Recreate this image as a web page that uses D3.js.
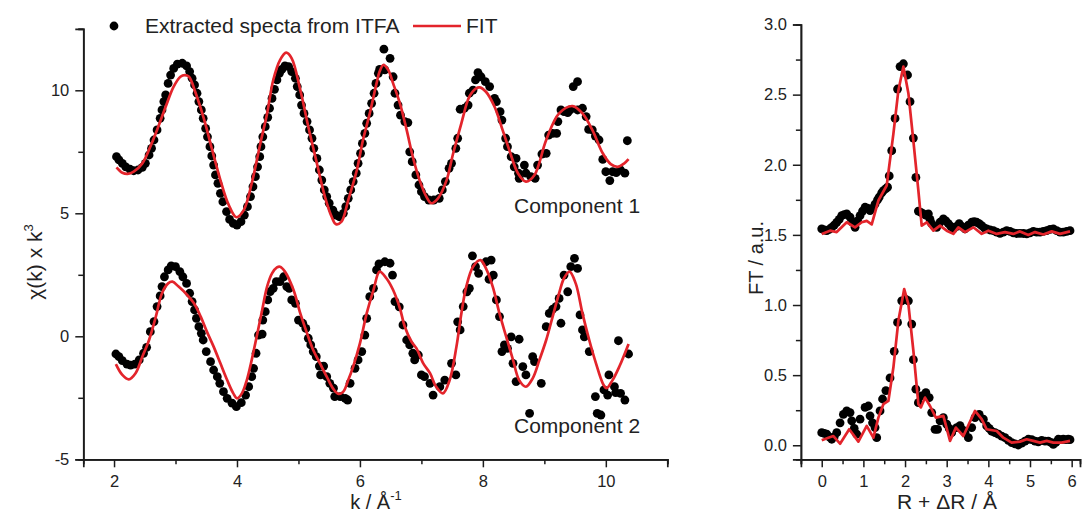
<!DOCTYPE html>
<html><head><meta charset="utf-8">
<script src="https://cdn.jsdelivr.net/npm/d3@7"></script>
<style>
body{margin:0;background:#fff}
svg{display:block;font-family:"Liberation Sans",Arial,sans-serif}
</style>
</head><body>
<svg id="chart" width="1082" height="513"></svg>
<script>
// ---------------- DATA ----------------
// Left panel: chi(k) x k^3, component 1
const c1DotK = [2.04,2.08,2.135,2.19,2.26,2.32,2.39,2.46,2.51,2.57,2.61,2.65,2.70,2.75,2.78,2.81,2.84,2.88,2.92,2.97,3.03,3.11,3.18,3.23,3.27,3.31,3.35,3.38,3.42,3.45,3.49,3.52,3.56,3.59,3.62,3.65,3.69,3.73,3.77,3.83,3.88,3.94,4.00,4.065,4.12,4.17,4.22,4.26,4.30,4.335,4.37,4.39,4.42,4.46,4.50,4.53,4.57,4.61,4.65,4.69,4.73,4.78,4.84,4.89,4.95,4.98,5.02,5.05,5.09,5.14,5.18,5.22,5.25,5.30,5.34,5.38,5.42,5.46,5.50,5.56,5.61,5.665,5.73,5.77,5.81,5.85,5.89,5.94,5.97,6.01,6.04,6.08,6.11,6.15,6.19,6.23,6.26,6.30,6.32,
  6.39,6.405,6.49,6.54,6.57,6.62,6.66,6.73,6.78,6.81,6.85,6.91,6.96,7.00,7.05,7.12,7.20,7.29,7.34,7.39,7.45,7.49,7.56,7.59,7.63,7.70,7.76,7.78,7.84,7.88,7.92,7.97,8.04,8.11,8.19,8.22,8.28,8.31,8.37,8.40,8.46,8.51,8.54,8.58,8.59,8.675,8.70,8.78,8.85,8.89,8.96,9.03,9.07,9.135,9.20,9.22,9.27,9.32,9.38,9.42,9.47,9.54,9.54,9.62,9.68,9.72,9.78,9.83,9.89,9.95,10.00,10.065,10.11,10.17,10.24,10.31,10.35];
const c1DotV = [7.30,7.17,7.03,6.89,6.79,6.73,6.76,6.87,7.03,7.37,7.64,7.98,8.39,8.86,9.20,9.54,9.81,10.28,10.62,10.89,11.06,11.10,10.99,10.76,10.49,10.22,9.88,9.54,9.20,8.86,8.45,8.11,7.71,7.33,6.96,6.56,6.22,5.81,5.47,5.07,4.75,4.59,4.52,4.66,4.93,5.27,5.68,6.08,6.49,6.89,7.30,7.71,8.11,8.52,8.90,9.27,9.67,10.04,10.42,10.69,10.85,10.99,10.96,10.76,10.49,10.15,9.81,9.40,9.06,8.73,8.39,8.05,7.64,7.23,6.76,6.35,5.95,5.68,5.41,5.13,4.93,4.86,5.00,5.27,5.61,5.95,6.29,6.63,7.03,7.44,7.84,8.25,8.66,9.06,9.47,9.88,10.28,10.69,10.85,
  11.67,10.83,11.30,10.55,9.88,9.40,8.99,8.73,8.69,7.50,7.10,6.56,6.15,5.88,5.68,5.54,5.54,5.61,5.95,6.29,6.83,7.03,7.64,8.05,9.23,9.27,9.40,9.88,10.01,10.42,10.72,10.55,10.35,10.15,9.67,9.54,9.13,8.79,8.05,7.71,7.30,6.89,7.23,6.63,6.42,6.96,6.63,6.49,6.42,6.96,7.41,7.44,8.18,8.25,8.25,8.73,9.20,9.13,9.09,9.20,10.15,10.35,9.20,9.27,8.93,8.41,8.39,8.14,7.98,7.19,6.69,6.33,6.69,6.65,6.76,6.63,7.95];
const c1FitK = [2.04,2.135,2.22,2.32,2.46,2.59,2.70,2.84,2.97,3.08,3.15,3.22,3.32,3.46,3.59,3.73,3.865,3.99,4.11,4.24,4.38,4.49,4.59,4.70,4.80,4.89,5.03,5.16,5.30,5.43,5.54,5.61,5.70,5.81,5.95,6.05,6.16,6.27,6.32,6.38,6.46,6.54,6.65,6.76,6.86,6.97,7.08,7.16,7.27,7.41,7.51,7.65,7.78,7.89,7.95,8.05,8.19,8.32,8.43,8.57,8.70,8.84,9.03,9.24,9.46,9.62,9.78,9.95,10.08,10.19,10.30,10.37];
const c1FitV = [6.87,6.65,6.60,6.69,7.03,7.71,8.39,9.33,10.15,10.55,10.62,10.55,9.94,8.86,7.64,6.35,5.34,4.84,5.13,6.22,7.84,9.06,10.42,11.23,11.53,11.30,10.01,8.52,7.03,5.68,4.86,4.56,4.66,5.54,6.76,7.98,9.06,10.28,10.76,11.03,10.83,10.28,9.47,8.39,7.30,6.35,5.68,5.41,5.61,6.35,7.37,8.66,9.74,10.08,10.12,9.94,9.33,8.39,7.57,6.63,6.29,6.56,7.98,9.06,9.36,9.06,8.39,7.44,7.00,6.89,7.03,7.20];

// Left panel: component 2
const c2DotK = [2.03,2.08,2.135,2.21,2.27,2.34,2.41,2.48,2.53,2.59,2.65,2.70,2.75,2.78,2.82,2.88,2.93,3.00,3.07,3.12,3.18,3.23,3.27,3.31,3.34,3.38,3.42,3.45,3.50,3.57,3.62,3.68,3.72,3.78,3.84,3.92,3.99,4.07,4.14,4.19,4.24,4.27,4.31,4.35,4.41,4.42,4.46,4.50,4.54,4.59,4.64,4.70,4.76,4.81,4.85,4.89,4.95,5.00,5.07,5.12,5.16,5.20,5.24,5.29,5.34,5.41,5.36,5.46,5.51,5.57,5.59,5.68,5.76,5.80,5.84,5.92,5.97,6.03,6.08,6.11,6.16,6.22,6.27,6.31,
  6.405,6.49,6.53,6.57,6.64,6.70,6.76,6.81,6.86,6.89,6.95,7.00,7.05,7.14,7.19,7.30,7.38,7.49,7.56,7.59,7.63,7.68,7.74,7.78,7.83,7.88,7.93,8.05,8.135,8.10,8.17,8.22,8.27,8.31,8.35,8.40,8.46,8.49,8.54,8.59,8.65,8.70,8.76,8.81,8.84,8.95,9.03,9.08,9.135,9.19,9.24,9.27,9.32,9.38,9.43,9.49,9.54,9.58,9.62,9.65,9.73,9.83,9.86,9.92,9.97,10.03,10.05,10.14,10.16,10.205,10.24,10.31,10.37];
const c2DotV = [-0.72,-0.83,-0.99,-1.13,-1.17,-1.13,-0.96,-0.69,-0.45,0.19,0.60,1.21,1.64,2.02,2.42,2.70,2.86,2.83,2.63,2.42,2.15,1.75,1.41,1.07,0.73,0.39,0.12,-0.15,-0.62,-1.03,-1.37,-1.64,-1.91,-2.25,-2.52,-2.72,-2.86,-2.70,-2.39,-2.05,-1.64,-1.30,-0.69,0.05,0.09,0.66,1.00,1.48,1.82,1.95,2.22,2.22,2.42,2.02,1.95,1.48,1.34,0.66,0.53,0.32,-0.08,-0.35,-0.62,-0.83,-1.21,-1.21,-1.57,-1.64,-1.91,-2.11,-2.45,-2.45,-2.52,-2.59,-1.91,-1.30,-0.96,-0.62,0.05,0.73,1.61,1.95,2.70,2.94,
  3.03,2.97,2.49,1.41,1.20,0.46,-0.15,-0.35,-0.69,-0.96,-0.76,-1.57,-1.64,-1.91,-2.39,-2.05,-1.78,-1.10,-1.57,0.59,0.26,1.21,1.81,1.95,3.27,2.83,2.56,3.03,3.10,2.32,2.49,1.48,0.80,-0.62,-0.35,-0.49,-0.02,-1.10,-1.84,-0.12,-1.23,-1.57,-3.13,-0.83,-1.03,-1.91,0.39,0.93,1.10,1.21,1.54,0.53,2.49,1.81,2.83,3.17,2.76,0.87,0.26,-0.02,-0.62,-2.45,-3.13,-3.20,-2.18,-2.39,-1.57,-2.05,-2.29,-0.18,-2.32,-2.59,-0.72];
const c2FitK = [2.03,2.135,2.24,2.35,2.46,2.57,2.68,2.78,2.88,2.95,3.05,3.19,3.30,3.41,3.51,3.62,3.73,3.84,3.94,4.00,4.08,4.16,4.24,4.32,4.41,4.49,4.57,4.65,4.70,4.78,4.92,5.03,5.14,5.24,5.35,5.46,5.57,5.65,5.73,5.81,5.89,6.00,6.11,6.22,6.32,6.43,6.54,6.65,6.73,6.84,6.92,7.03,7.14,7.24,7.35,7.46,7.57,7.65,7.73,7.84,7.96,8.05,8.16,8.27,8.38,8.49,8.59,8.70,8.81,8.92,9.03,9.135,9.24,9.32,9.41,9.51,9.62,9.73,9.84,9.95,10.01,10.11,10.22,10.37];
const c2FitV = [-1.13,-1.57,-1.75,-1.50,-0.83,-0.15,0.80,1.75,2.15,2.22,2.02,1.68,1.34,0.80,0.19,-0.42,-1.10,-1.78,-2.32,-2.52,-2.32,-1.78,-0.96,-0.02,1.07,2.02,2.56,2.80,2.83,2.63,1.88,0.93,0.12,-0.56,-1.10,-1.64,-2.15,-2.34,-2.25,-1.78,-1.23,-0.29,0.93,1.88,2.63,2.36,1.88,1.14,0.39,-0.22,-0.49,-1.10,-1.50,-2.05,-2.32,-1.78,-0.42,0.93,2.02,2.83,3.10,2.76,2.02,0.93,-0.02,-0.96,-1.78,-2.05,-1.71,-0.96,-0.15,0.80,1.75,2.36,2.63,2.15,0.93,-0.15,-1.10,-1.91,-2.11,-1.78,-1.23,-0.31];

// Right panel: FT magnitude, component 1 (offset) and component 2
const ft1DotR = [0.00,0.06,0.12,0.18,0.24,0.30,0.36,0.42,0.48,0.54,0.60,0.68,0.74,0.80,0.86,0.92,0.98,1.04,1.10,1.16,1.22,1.28,1.34,1.38,1.44,1.48,1.54,1.58,1.62,1.68,1.76,1.82,1.88,1.96,2.06,2.12,2.20,2.26,2.32,2.38,2.44,2.50,2.56,2.60,2.64,2.70,2.76,2.84,2.92,2.98,3.04,3.10,3.16,3.24,3.30,3.36,3.44,3.52,3.60,3.66,3.72,3.78,3.84,3.90,3.96,4.04,4.12,4.20,4.28,4.36,4.44,4.52,4.60,4.68,4.76,4.84,4.92,5.00,5.08,5.16,5.24,5.32,5.40,5.48,5.56,5.64,5.72,5.80,5.88,5.96];
const ft1DotV = [1.543,1.535,1.53,1.54,1.554,1.57,1.59,1.61,1.638,1.645,1.65,1.626,1.59,1.554,1.60,1.638,1.67,1.697,1.69,1.673,1.69,1.72,1.75,1.77,1.80,1.816,1.83,1.84,1.92,2.10,2.33,2.54,2.70,2.72,2.64,2.45,2.19,1.91,1.67,1.66,1.65,1.64,1.65,1.61,1.58,1.56,1.554,1.59,1.614,1.60,1.58,1.56,1.543,1.56,1.58,1.56,1.543,1.57,1.59,1.595,1.59,1.58,1.566,1.55,1.543,1.535,1.53,1.52,1.511,1.52,1.53,1.525,1.515,1.51,1.511,1.51,1.507,1.515,1.525,1.52,1.52,1.525,1.53,1.54,1.543,1.53,1.52,1.52,1.525,1.53];
const ft1FitR = [0.00,0.20,0.36,0.60,0.80,0.96,1.08,1.20,1.36,1.56,1.72,1.84,1.96,2.08,2.20,2.32,2.40,2.52,2.68,2.84,3.00,3.16,3.28,3.44,3.64,3.84,4.00,4.20,4.40,4.60,4.76,4.96,5.12,5.32,5.52,5.72,5.96];
const ft1FitV = [1.507,1.53,1.52,1.59,1.554,1.59,1.60,1.575,1.745,1.852,2.22,2.53,2.70,2.51,2.17,1.816,1.566,1.59,1.53,1.566,1.53,1.507,1.554,1.52,1.554,1.507,1.53,1.507,1.52,1.507,1.525,1.50,1.52,1.503,1.525,1.507,1.525];

const ft2DotR = [0.00,0.06,0.12,0.18,0.24,0.30,0.36,0.44,0.52,0.60,0.68,0.72,0.78,0.84,0.92,1.04,1.12,1.16,1.22,1.28,1.32,1.40,1.46,1.54,1.64,1.74,1.82,1.92,2.02,2.08,2.16,2.20,2.26,2.32,2.40,2.50,2.58,2.64,2.72,2.78,2.84,2.92,3.00,3.06,3.12,3.24,3.32,3.38,3.44,3.52,3.60,3.68,3.78,3.88,3.96,4.02,4.08,4.16,4.24,4.32,4.40,4.48,4.56,4.64,4.72,4.80,4.88,4.96,5.04,5.12,5.20,5.28,5.36,5.44,5.50,5.56,5.62,5.68,5.74,5.80,5.86,5.92,5.96];
const ft2DotV = [0.09,0.085,0.079,0.06,0.043,0.06,0.09,0.16,0.22,0.245,0.233,0.174,0.12,0.079,0.186,0.27,0.28,0.21,0.16,0.126,0.054,0.245,0.33,0.39,0.48,0.67,0.876,1.03,1.04,1.03,0.864,0.61,0.40,0.304,0.352,0.376,0.34,0.233,0.114,0.114,0.174,0.197,0.15,0.12,0.09,0.126,0.14,0.11,0.09,0.054,0.126,0.197,0.22,0.186,0.138,0.12,0.10,0.09,0.079,0.065,0.054,0.035,0.019,0.01,0.002,0.015,0.03,0.043,0.04,0.03,0.025,0.035,0.03,0.03,0.02,0.007,0.02,0.043,0.04,0.043,0.04,0.043,0.04];
const ft2FitR = [0.00,0.16,0.28,0.44,0.66,0.88,1.08,1.24,1.36,1.48,1.60,1.72,1.84,1.98,2.08,2.20,2.32,2.38,2.48,2.60,2.74,2.92,3.08,3.22,3.40,3.68,3.84,3.96,4.20,4.36,4.56,4.76,4.92,5.08,5.24,5.40,5.56,5.76,5.96];
const ft2FitV = [0.036,0.054,0.066,0.011,0.114,0.026,0.138,0.054,0.197,0.293,0.316,0.554,0.888,1.114,1.007,0.674,0.293,0.27,0.34,0.28,0.197,0.21,0.031,0.126,0.066,0.245,0.186,0.114,0.102,0.054,0.019,0.026,0.043,0.031,0.019,0.031,0.019,0.019,0.031];

// Tick values
const leftXTicks = [2,4,6,8,10];
const leftXMinor = [3,5,7,9,11];
const leftYTicks = [-5,0,5,10];
const leftYMinor = [-2.5,2.5,7.5,12.5];
const rightXTicks = [0,1,2,3,4,5,6];
const rightXMinor = [-0.5,0.5,1.5,2.5,3.5,4.5,5.5];
const rightYTicks = [0,0.5,1.0,1.5,2.0,2.5,3.0];
const rightYMinor = [0.25,0.75,1.25,1.75,2.25,2.75];

const legendDotLabel = "Extracted specta from ITFA";
const legendFitLabel = "FIT";
const comp1Label = "Component 1";
const comp2Label = "Component 2";

// ---------------- DRAW ----------------
const svg = d3.select("#chart");
const RED = "#e3242b";
const AX = "#1c1c1c";

const xL = d3.scaleLinear().domain([1.5, 11]).range([83.3, 667.3]);
const yL = d3.scaleLinear().domain([-5, 12.5]).range([459.3, 28.8]);
const xR = d3.scaleLinear().domain([-0.5, 6.2]).range([800.9, 1080]);
const yR = d3.scaleLinear().domain([-0.1, 3.0]).range([459.3, 24.5]);

function styleAxis(g){
  g.select(".domain").attr("stroke", AX).attr("stroke-width", 1.7);
  g.selectAll(".tick line").attr("stroke", AX).attr("stroke-width", 1.5);
  g.selectAll(".tick text").attr("fill", "#222").style("font-size", "16.5px");
}

// Left axes
const gLX = svg.append("g").attr("transform", `translate(0,${yL(-5)})`)
  .call(d3.axisBottom(xL).tickValues(leftXTicks).tickSize(8).tickPadding(8).tickFormat(d => String(d)));
styleAxis(gLX);
const gLXm = svg.append("g").attr("transform", `translate(0,${yL(-5)})`)
  .call(d3.axisBottom(xL).tickValues(leftXMinor).tickSize(5).tickFormat(""));
styleAxis(gLXm);
const gLY = svg.append("g").attr("transform", `translate(${xL(1.5)},0)`)
  .call(d3.axisLeft(yL).tickValues(leftYTicks).tickSize(8).tickPadding(6).tickFormat(d => String(d)));
styleAxis(gLY);
const gLYm = svg.append("g").attr("transform", `translate(${xL(1.5)},0)`)
  .call(d3.axisLeft(yL).tickValues(leftYMinor).tickSize(5).tickFormat(""));
styleAxis(gLYm);

// Right axes
const gRX = svg.append("g").attr("transform", `translate(0,${yR(-0.1)})`)
  .call(d3.axisBottom(xR).tickValues(rightXTicks).tickSize(8).tickPadding(8).tickFormat(d => String(d)));
styleAxis(gRX);
const gRXm = svg.append("g").attr("transform", `translate(0,${yR(-0.1)})`)
  .call(d3.axisBottom(xR).tickValues(rightXMinor).tickSize(5).tickFormat(""));
styleAxis(gRXm);
const gRY = svg.append("g").attr("transform", `translate(${xR(-0.5)},0)`)
  .call(d3.axisLeft(yR).tickValues(rightYTicks).tickSize(8).tickPadding(6).tickFormat(d3.format(".1f")));
styleAxis(gRY);
const gRYm = svg.append("g").attr("transform", `translate(${xR(-0.5)},0)`)
  .call(d3.axisLeft(yR).tickValues(rightYMinor).tickSize(5).tickFormat(""));
styleAxis(gRYm);

// Marks
function dots(K, V, xs, ys, r){
  svg.append("g").selectAll("circle").data(K.map((k,i)=>[k,V[i]])).join("circle")
    .attr("cx", d => xs(d[0])).attr("cy", d => ys(d[1])).attr("r", r).attr("fill", "#000");
}
function line(K, V, xs, ys, curve){
  svg.append("path").datum(K.map((k,i)=>[k,V[i]]))
    .attr("fill","none").attr("stroke",RED).attr("stroke-width",2.7)
    .attr("stroke-linejoin","round")
    .attr("d", d3.line().x(d=>xs(d[0])).y(d=>ys(d[1])).curve(curve));
}
dots(c1DotK, c1DotV, xL, yL, 4.4);
dots(c2DotK, c2DotV, xL, yL, 4.4);
line(c1FitK, c1FitV, xL, yL, d3.curveCatmullRom.alpha(0.5));
line(c2FitK, c2FitV, xL, yL, d3.curveCatmullRom.alpha(0.5));
dots(ft1DotR, ft1DotV, xR, yR, 4.4);
dots(ft2DotR, ft2DotV, xR, yR, 4.4);
line(ft1FitR, ft1FitV, xR, yR, d3.curveLinear);
line(ft2FitR, ft2FitV, xR, yR, d3.curveLinear);

// Legend
const lg = svg.append("g").style("font-size","21px").attr("fill","#222");
lg.append("circle").attr("cx",114).attr("cy",26).attr("r",4.4).attr("fill","#000");
lg.append("text").attr("x",145).attr("y",33).text(legendDotLabel);
lg.append("line").attr("x1",413).attr("x2",461).attr("y1",26).attr("y2",26).attr("stroke",RED).attr("stroke-width",2.7);
lg.append("text").attr("x",466).attr("y",33).text(legendFitLabel);

// Component labels
svg.append("text").attr("x",514).attr("y",213).style("font-size","21px").attr("fill","#222").text(comp1Label);
svg.append("text").attr("x",514).attr("y",433).style("font-size","21px").attr("fill","#222").text(comp2Label);

// Axis titles
const tx = svg.append("text").attr("x",376).attr("y",509).attr("text-anchor","middle").style("font-size","20px").attr("fill","#222");
tx.append("tspan").text("k / Å");
tx.append("tspan").attr("dy",-9).style("font-size","13px").text("-1");

const ty = svg.append("text").attr("transform","translate(42,262) rotate(-90)").attr("text-anchor","middle").style("font-size","21px").attr("fill","#222");
ty.append("tspan").text("χ(k) x k");
ty.append("tspan").attr("dy",-9).style("font-size","13px").text("3");

svg.append("text").attr("x",947).attr("y",509).attr("text-anchor","middle").style("font-size","21px").attr("fill","#222").text("R + ΔR / Å");
svg.append("text").attr("transform","translate(763,258) rotate(-90)").attr("text-anchor","middle").style("font-size","20px").attr("fill","#222").text("FT / a.u.");
</script>
</body></html>
